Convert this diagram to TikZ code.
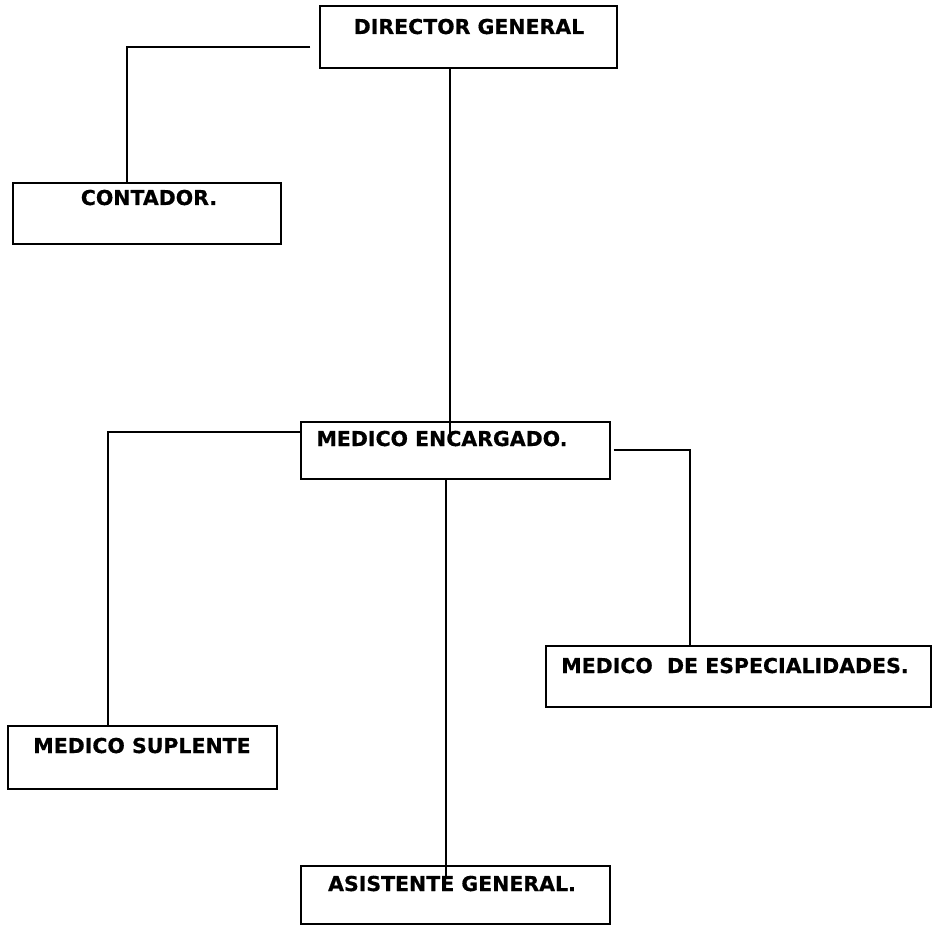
\documentclass[tikz,border=0pt]{standalone}
\usepackage{fontspec}
\setmainfont{DejaVu Sans}
\newfontfamily\heavyfont[FakeBold=0.6]{DejaVu Sans Bold}
\usetikzlibrary{calc}
\begin{document}
\begin{tikzpicture}[x=1pt,y=-1pt,
  boxnode/.style={draw=black, line width=1.6pt, rectangle, anchor=north west, inner sep=0pt},
  lbl/.style={anchor=base, inner sep=0pt, font=\fontsize{20.5}{24}\heavyfont\selectfont},
  conn/.style={draw=black, line width=1.4pt}]
\useasboundingbox (0,0) rectangle (934,925);
% boxes
\node[boxnode, minimum width=297, minimum height=62] (dir) at (319,5) {};
\node[boxnode, minimum width=268, minimum height=61] (cont) at (12,182) {};
\node[boxnode, minimum width=309, minimum height=57] (enc) at (300,421) {};
\node[boxnode, minimum width=269, minimum height=63] (sup) at (7,725) {};
\node[boxnode, minimum width=385, minimum height=61] (esp) at (545,645) {};
\node[boxnode, minimum width=309, minimum height=58] (asi) at (300,865) {};
% labels
\node[lbl] (dirt) at (469,34) {DIRECTOR GENERAL};
\node[lbl] (contt) at (149,205) {CONTADOR.};
\node[lbl] (enct) at (442,446) {MEDICO ENCARGADO.};
\node[lbl] (supt) at (142,753) {MEDICO SUPLENTE};
\node[lbl] (espt) at (735,673) {MEDICO\ \ DE ESPECIALIDADES.};
\node[lbl] (asit) at (452,891) {ASISTENTE GENERAL.};
% connectors
\coordinate (c1) at ($(dir.north west)+(-9,42)$);
\coordinate (c1b) at ($(cont.north west)+(115,0)$);
\draw[conn] (c1) -| (c1b);
\draw[conn, line width=2.4pt] (c1) -- ++(-8,0);
\coordinate (d1) at ($(dir.south west)+(131,0)$);
\coordinate (d2) at ($(enc.north west)+(150,19)$);
\draw[conn] (d1) -- (d2);
\coordinate (e1) at ($(enc.north west)+(0,11)$);
\coordinate (e1b) at ($(sup.north west)+(101,0)$);
\draw[conn] (e1) -| (e1b);
\coordinate (e2) at ($(enc.north east)+(3,29)$);
\coordinate (e2b) at ($(esp.north west)+(145,0)$);
\draw[conn] (e2) -| (e2b);
\coordinate (f1) at ($(enc.south west)+(146,0)$);
\coordinate (f2) at ($(asi.north west)+(146,13)$);
\draw[conn] (f1) -- (f2);
\end{tikzpicture}
\end{document}
